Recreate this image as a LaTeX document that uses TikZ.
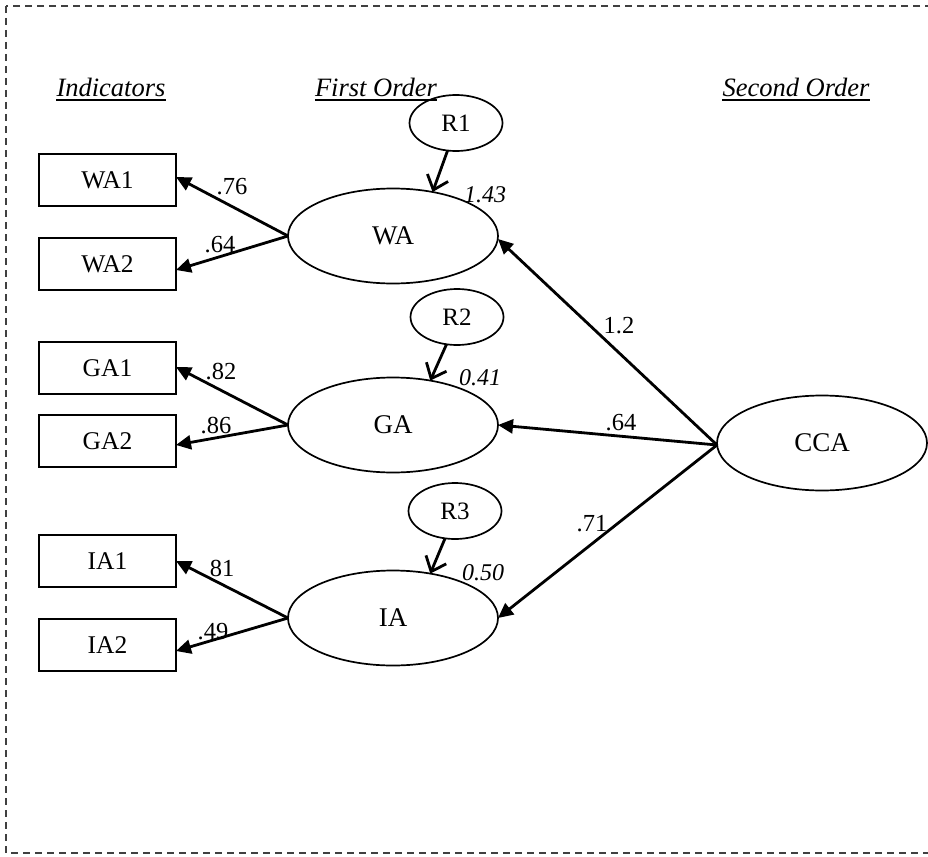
\documentclass[tikz,border=0pt]{standalone}
\usepackage{fontspec}
\setmainfont{Liberation Serif}
\usetikzlibrary{shapes.geometric,arrows.meta}
\begin{document}
\begin{tikzpicture}[x=1pt,y=-1pt,
  lat/.style={draw, ellipse, line width=1.7pt, minimum width=210pt, minimum height=95pt,
    inner sep=0pt, outer sep=0pt, font=\fontsize{27}{32}\selectfont},
  res/.style={draw, ellipse, line width=1.7pt, minimum width=93pt, minimum height=56pt,
    inner sep=0pt, outer sep=0pt, font=\fontsize{25}{30}\selectfont},
  indbox/.style={draw, rectangle, line width=1.7pt, minimum width=137pt, minimum height=52pt,
    inner sep=0pt, outer sep=0pt, font=\fontsize{25.5}{30}\selectfont},
  pathar/.style={line width=2.8pt, -{Triangle[length=15pt,width=14pt]}},
  errar/.style={line width=2.8pt, -{Straight Barb[length=13pt,width=22pt,line width=2.8pt]}},
  lab/.style={font=\fontsize{24.5}{28}\selectfont, inner sep=0pt},
  ilab/.style={font=\fontsize{24}{28}\selectfont\itshape, inner sep=0pt},
  head/.style={font=\fontsize{26.5}{30}\selectfont\itshape, inner sep=0pt, anchor=base},
  uline/.style={line width=1.8pt},
]
\useasboundingbox (0,0) rectangle (928,856);
\clip (0,0) rectangle (928,856);
% frame
\draw[dash pattern=on 7pt off 5pt, line width=1.2pt, black!75] (6,6) rectangle (960,853);

% headers
\node[head] (hind) at (111,97) {Indicators};
\node[head] (hfirst) at (376,97) {First Order};
\node[head] (hsecond) at (796,97) {Second Order};
\draw[uline] ([yshift=-3pt]hind.base west) -- ([yshift=-3pt]hind.base east);
\draw[uline] ([yshift=-3pt]hfirst.base west) -- ([yshift=-3pt]hfirst.base east);
\draw[uline] ([yshift=-3pt]hsecond.base west) -- ([yshift=-3pt]hsecond.base east);

% indicator boxes
\node[indbox] (wa1) at (107.5,180) {WA1};
\node[indbox] (wa2) at (107.5,264) {WA2};
\node[indbox] (ga1) at (107.5,368) {GA1};
\node[indbox] (ga2) at (107.5,441) {GA2};
\node[indbox] (ia1) at (107.5,561) {IA1};
\node[indbox] (ia2) at (107.5,645) {IA2};

% first order latents
\node[lat] (wa) at (393,236) {WA};
\node[lat] (ga) at (393,425) {GA};
\node[lat] (ia) at (393,618) {IA};

% second order
\node[lat] (cca) at (822,443) {CCA};

% residuals
\node[res] (r1) at (456,123) {R1};
\node[res] (r2) at (457,317) {R2};
\node[res] (r3) at (455,511) {R3};

% loadings
\draw[pathar] (wa.west) -- ([yshift=3pt]wa1.east);
\draw[pathar] (wa.west) -- ([yshift=-6pt]wa2.east);
\draw[pathar] (ga.west) -- ([yshift=1pt]ga1.east);
\draw[pathar] (ga.west) -- ([yshift=-4pt]ga2.east);
\draw[pathar] (ia.west) -- ([yshift=0pt]ia1.east);
\draw[pathar] (ia.west) -- ([yshift=-6pt]ia2.east);

% second order paths
\draw[pathar] ([yshift=-2pt]cca.west) -- ([yshift=-3pt]wa.east);
\draw[pathar] ([yshift=-2pt]cca.west) -- (ga.east);
\draw[pathar] ([yshift=-2pt]cca.west) -- (ia.east);

% residual arrows
\draw[errar] (r1.-107) -- (wa.48);
\draw[errar] (r2.-111) -- (ga.50);
\draw[errar] (r3.-110) -- (ia.50);

% labels
\node[lab] (l76) at (232,187) {.76};
\node[lab] (l64a) at (220,245) {.64};
\node[lab] (l82) at (221,372) {.82};
\node[lab] (l86) at (216,426) {.86};
\node[lab] (l81) at (222,568) {81};
\node[lab] (l49) at (213,632) {.49};
\node[ilab] (l143) at (485,195) {1.43};
\node[ilab] (l041) at (480,378) {0.41};
\node[ilab] (l050) at (483,573) {0.50};
\node[lab] (l12) at (619,326) {1.2};
\node[lab] (l64b) at (621,423) {.64};
\node[lab] (l71) at (592,524) {.71};
\end{tikzpicture}
\end{document}
